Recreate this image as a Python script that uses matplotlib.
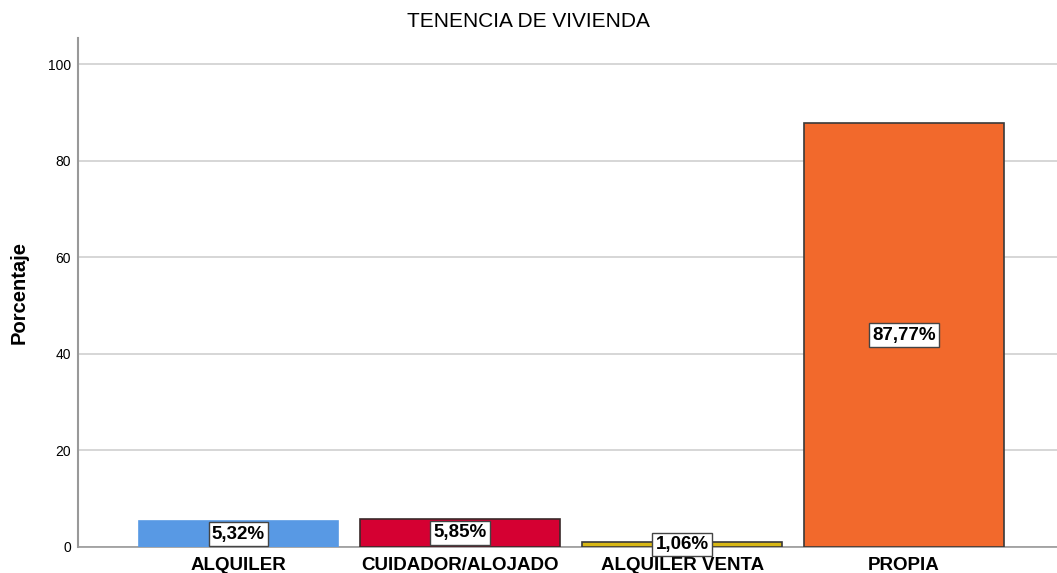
import numpy as np
import matplotlib.pyplot as plt

categorias = ['ALQUILER', 'CUIDADOR/ALOJADO', 'ALQUILER VENTA', 'PROPIA']
porcentajes = [5.32, 5.85, 1.06, 87.77]
etiquetas = ['5,32%', '5,85%', '1,06%', '87,77%']
colores = ['#5899E4', '#D50032', '#D8B714', '#F2692C']
bordes = ['#5899E4', '#3a2a2a', '#3a3a3a', '#3a3a3a']

plt.rcParams['font.family'] = ['Liberation Sans', 'DejaVu Sans']

fig = plt.figure(figsize=(10.57, 5.73), dpi=100)
ax = fig.add_axes([0.0738, 0.0454, 0.9262, 0.888])

x = np.arange(len(categorias))
ax.bar(x, porcentajes, width=0.9, color=colores, edgecolor=bordes, linewidth=1.2, zorder=3)

for xi, v, t in zip(x, porcentajes, etiquetas):
    ax.text(xi, v / 2, t, ha='center', va='center', fontsize=13.5, fontweight='bold', zorder=4,
            bbox=dict(boxstyle='square,pad=0.17', facecolor='white', edgecolor='#444444', linewidth=1))

ax.set_xlim(-0.723, 3.69)
ax.set_ylim(0, 105.4)
ax.set_yticks([0, 20, 40, 60, 80, 100])
ax.tick_params(axis='y', length=0, labelsize=10, pad=5)
ax.tick_params(axis='x', length=0, pad=7)
ax.set_xticks(x)
ax.set_xticklabels(categorias, fontsize=13.5, fontweight='bold')
ax.yaxis.grid(True, color='#d0d0d0', linewidth=1.2, zorder=0)
ax.set_axisbelow(True)

for s in ['top', 'right']:
    ax.spines[s].set_visible(False)
ax.spines['left'].set_color('#999999')
ax.spines['left'].set_linewidth(1.5)
ax.spines['bottom'].set_color('#999999')
ax.spines['bottom'].set_linewidth(1.2)

ax.set_ylabel('Porcentaje', fontsize=14.5, fontweight='bold', labelpad=14)
fig.text(0.5, 0.963, 'TENENCIA DE VIVIENDA', ha='center', va='center', fontsize=15)

fig.savefig('out.png', dpi=100)
